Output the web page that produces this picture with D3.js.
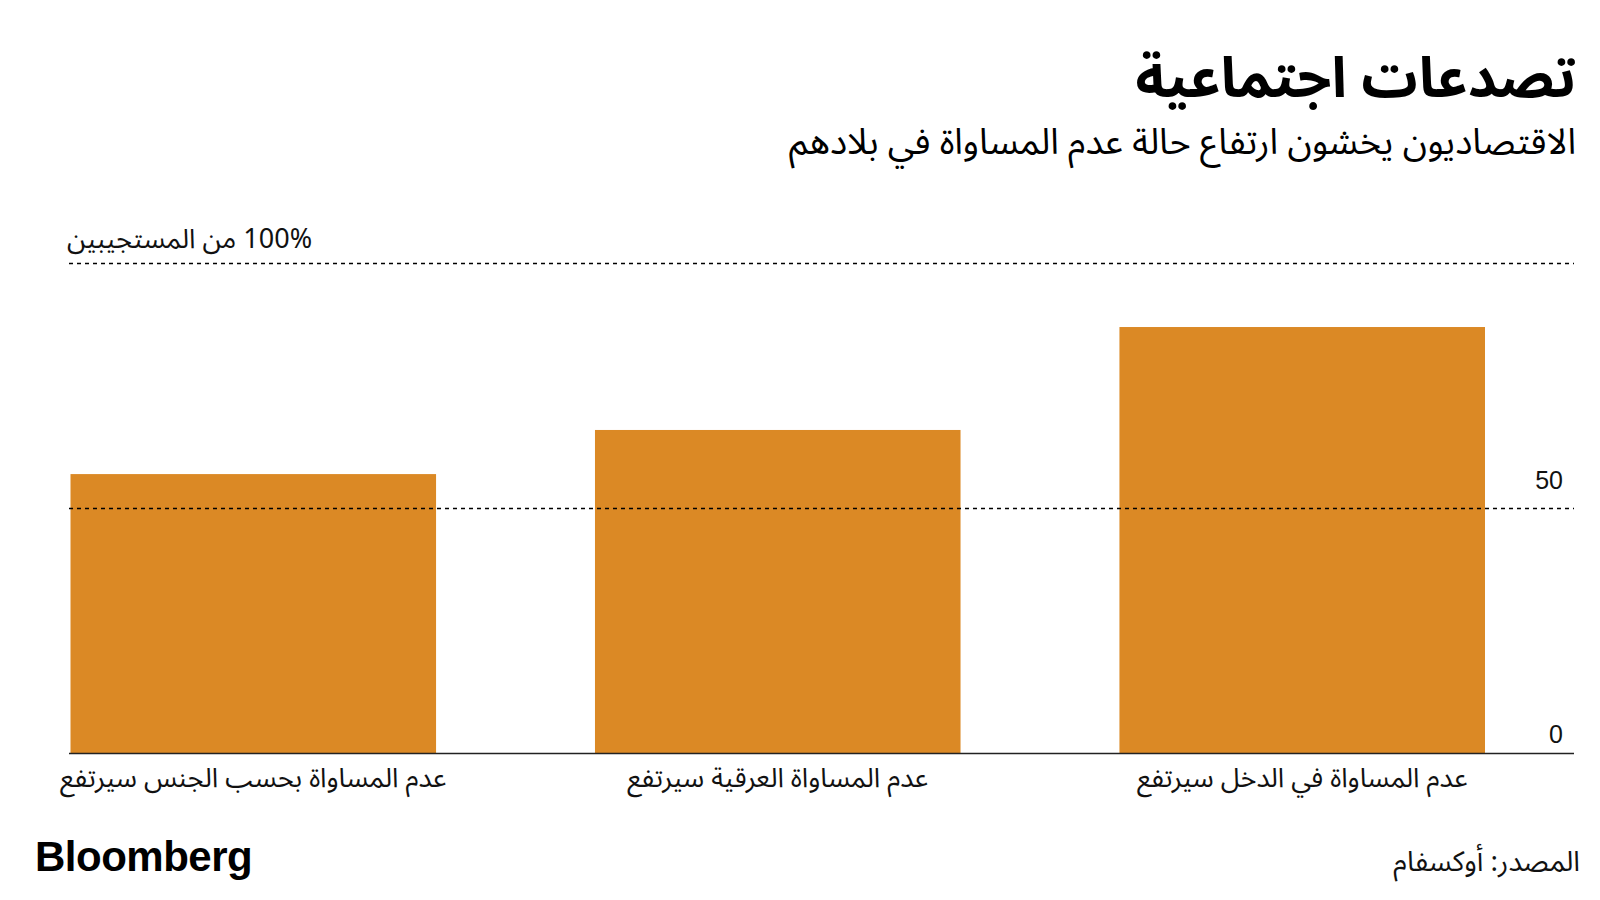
<!DOCTYPE html>
<html>
<head>
<meta charset="utf-8">
<script src="https://cdn.jsdelivr.net/npm/d3@7"></script>
<style>
  html, body { margin: 0; padding: 0; background: #fff; }
  svg { display: block; }
  .ar { font-family: "Noto Sans Arabic", "DejaVu Sans", sans-serif; }
</style>
</head>
<body>
<svg id="chart" width="1600" height="900"></svg>
<script>
const categories = ["عدم المساواة بحسب الجنس سيرتفع", "عدم المساواة العرقية سيرتفع", "عدم المساواة في الدخل سيرتفع"];
const values = [57, 66, 87];
const yTicks = [0, 50, 100];
const yTickLabels = ["0", "50", "100% من المستجيبين"];
const title = "تصدعات اجتماعية";
const subtitle = "الاقتصاديون يخشون ارتفاع حالة عدم المساواة في بلادهم";
const source = "المصدر: أوكسفام";

const svg = d3.select("#chart");
const barColor = "#db8925";

const plotLeft = 69, plotRight = 1574;
const x = d3.scaleBand().domain(categories).range([70.5, 1485]).paddingInner(0.303).paddingOuter(0);
const y = d3.scaleLinear().domain([0, 100]).range([753.5, 263.3]);

// Title & subtitle
svg.append("text").attr("class", "ar")
  .attr("x", 1576).attr("y", 97)
  .attr("direction", "rtl").attr("text-anchor", "start")
  .attr("font-size", 56).attr("font-weight", "bold").attr("fill", "#000")
  .text(title);
svg.append("text").attr("class", "ar")
  .attr("x", 1576).attr("y", 154)
  .attr("direction", "rtl").attr("text-anchor", "start")
  .attr("font-size", 36).attr("fill", "#000")
  .text(subtitle);

// Bars
svg.append("g").selectAll("rect").data(categories).join("rect")
  .attr("x", d => x(d))
  .attr("width", x.bandwidth())
  .attr("y", (d, i) => y(values[i]))
  .attr("height", (d, i) => y(0) - y(values[i]))
  .attr("fill", barColor);

// Gridlines (dashed) for non-zero ticks
svg.append("g").selectAll("line").data(yTicks.filter(t => t !== 0)).join("line")
  .attr("x1", plotLeft).attr("x2", plotRight)
  .attr("y1", d => Math.round(y(d)) + 0.5).attr("y2", d => Math.round(y(d)) + 0.5)
  .attr("stroke", "#000").attr("stroke-width", 1.5)
  .attr("stroke-dasharray", "4,4");

// Baseline
svg.append("line")
  .attr("x1", plotLeft).attr("x2", plotRight)
  .attr("y1", y(0)).attr("y2", y(0))
  .attr("stroke", "#222").attr("stroke-width", 1.5);

// Y tick labels
yTicks.forEach((t, i) => {
  if (t === 100) {
    svg.append("text").attr("class", "ar")
      .attr("x", 67).attr("y", y(t) - 15)
      .attr("direction", "rtl").attr("text-anchor", "end")
      .attr("font-size", 27).attr("fill", "#111")
      .text(yTickLabels[i]);
  } else {
    svg.append("text")
      .attr("x", 1563).attr("y", y(t) - (t === 0 ? 11 : 19))
      .attr("text-anchor", "end")
      .attr("font-family", "Liberation Sans, Arial, sans-serif")
      .attr("font-size", 25).attr("fill", "#111")
      .text(yTickLabels[i]);
  }
});

// Category labels
svg.append("g").selectAll("text").data(categories).join("text")
  .attr("class", "ar")
  .attr("x", (d, i) => x(d) + x.bandwidth() / 2)
  .attr("y", 787)
  .attr("text-anchor", "middle")
  .attr("direction", "rtl")
  .attr("font-size", 27).attr("fill", "#111")
  .text(d => d);

// Bloomberg logo
svg.append("text")
  .attr("x", 35).attr("y", 871)
  .attr("font-family", "Liberation Sans, Arial, sans-serif")
  .attr("font-weight", "bold").attr("font-size", 42)
  .attr("letter-spacing", -0.5)
  .attr("fill", "#000")
  .text("Bloomberg");

// Source
svg.append("text").attr("class", "ar")
  .attr("x", 1580).attr("y", 871)
  .attr("direction", "rtl").attr("text-anchor", "start")
  .attr("font-size", 28).attr("fill", "#111")
  .text(source);
</script>
</body>
</html>
